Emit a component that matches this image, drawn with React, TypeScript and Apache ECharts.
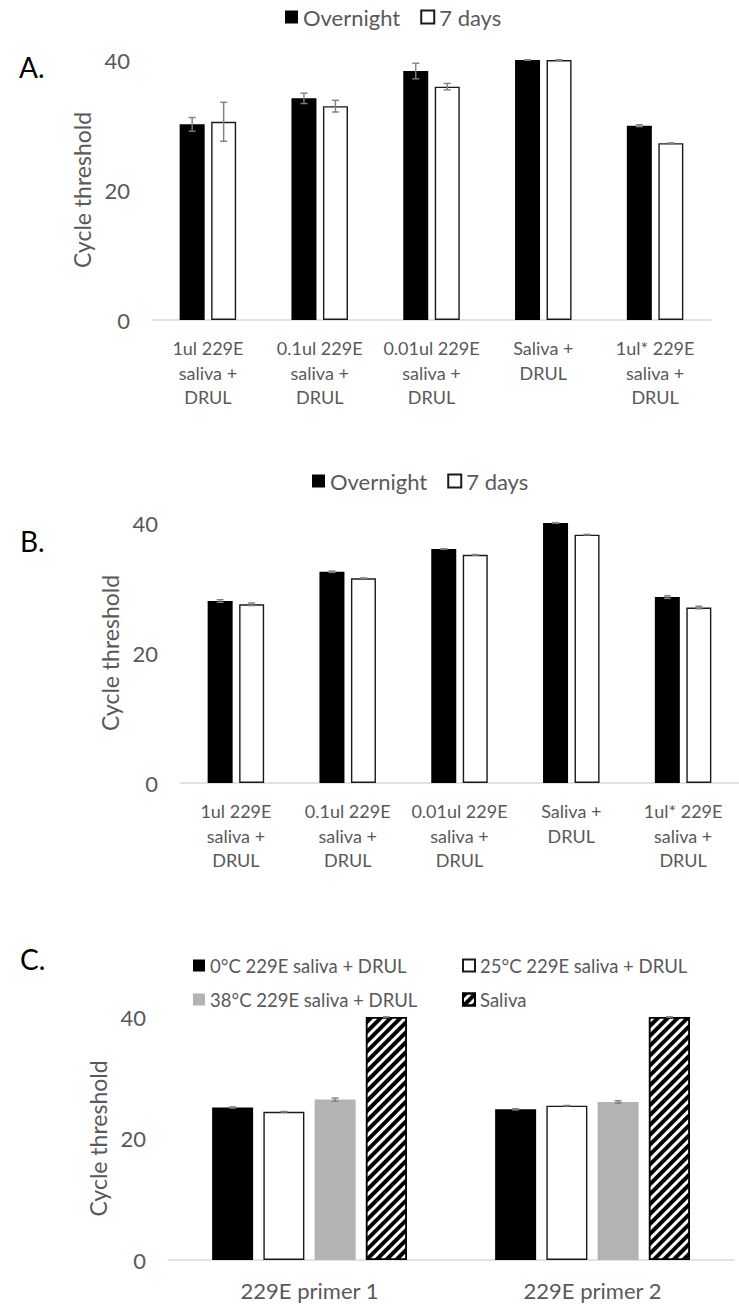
import React, { useEffect, useRef } from "react";
import * as echarts from "echarts";

// ---------- data ----------
const catsAB = [
  "1ul 229E\nsaliva +\nDRUL",
  "0.1ul 229E\nsaliva +\nDRUL",
  "0.01ul 229E\nsaliva +\nDRUL",
  "Saliva +\nDRUL",
  "1ul* 229E\nsaliva +\nDRUL",
];
const namesAB = ["Overnight", "7 days"];

const aOvernight = [30.1, 34.1, 38.3, 40.0, 29.9];
const aOvernightErr = [1.05, 0.8, 1.2, 0.05, 0.15];
const a7days = [30.5, 32.9, 35.9, 40.0, 27.2];
const a7daysErr = [3.0, 0.9, 0.5, 0.05, 0.05];

const bOvernight = [28.0, 32.5, 36.0, 40.0, 28.6];
const bOvernightErr = [0.2, 0.1, 0.05, 0.05, 0.2];
const b7days = [27.5, 31.5, 35.1, 38.2, 27.0];
const b7daysErr = [0.2, 0.05, 0.05, 0.05, 0.2];

const catsC = ["229E primer 1", "229E primer 2"];
const namesC = [
  "0°C 229E saliva + DRUL",
  "25°C 229E saliva + DRUL",
  "38°C 229E saliva + DRUL",
  "Saliva",
];
const c0 = [25.1, 24.8];
const c0Err = [0.1, 0.1];
const c25 = [24.4, 25.4];
const c25Err = [0.05, 0.05];
const c38 = [26.4, 26.0];
const c38Err = [0.25, 0.2];
const cSaliva = [40, 40];
const cSalivaErr = [0, 0];

const yMin = 0;
const yMax = 40;
const yInterval = 20;
const yName = "Cycle threshold";
const panelLetters = ["A.", "B.", "C."];

// ---------- styles ----------
const FONT = "Lato";
const TXT = "#595959";
const AXIS = "#d9d9d9";
const ERR = "#7f7f7f";

const errSeries = (
  gi: number,
  vals: number[],
  errs: number[],
  offset: number,
  key: string
) => ({
  type: "custom",
  name: "err-" + key,
  xAxisIndex: gi,
  yAxisIndex: gi,
  z: 10,
  silent: true,
  data: vals.map((v, i) => [i, v, errs[i]]),
  encode: { x: 0, y: 1 },
  renderItem: (params: any, api: any) => {
    const i = api.value(0);
    const v = api.value(1);
    const e = api.value(2);
    const top = api.coord([i, v + e]);
    const bot = api.coord([i, v - e]);
    const x = top[0] + offset;
    const cw = 3.5;
    const style = { stroke: ERR, lineWidth: 1.4 };
    return {
      type: "group",
      children: [
        { type: "line", shape: { x1: x, y1: top[1], x2: x, y2: bot[1] }, style },
        { type: "line", shape: { x1: x - cw, y1: top[1], x2: x + cw, y2: top[1] }, style },
        { type: "line", shape: { x1: x - cw, y1: bot[1], x2: x + cw, y2: bot[1] }, style },
      ],
    };
  },
});

const yAxisCfg = (gi: number, nameGap: number) => ({
  type: "value",
  gridIndex: gi,
  min: yMin,
  max: yMax,
  interval: yInterval,
  splitLine: { show: false },
  axisLine: { show: false },
  axisTick: { show: false },
  axisLabel: { color: TXT, fontSize: 22, fontFamily: FONT, margin: 22 },
  name: yName,
  nameLocation: "middle",
  nameGap,
  nameTextStyle: { color: TXT, fontSize: 23, fontFamily: FONT },
});

const xAxisCfg = (gi: number, cats: string[], fontSize: number, lineHeight: number, margin: number) => ({
  type: "category",
  gridIndex: gi,
  data: cats,
  axisLine: { show: true, lineStyle: { color: AXIS, width: 1.5 } },
  axisTick: { show: false },
  axisLabel: {
    color: TXT,
    fontSize,
    lineHeight,
    fontFamily: FONT,
    margin,
    interval: 0,
  },
});

const BW_AB = 25;
const GAP_AB = 0.26;
const OFF_AB = (BW_AB * (1 + GAP_AB)) / 2;
const BW_C = 41;
const GAP_C = 0.25;
const STEP_C = BW_C * (1 + GAP_C);

const blackStyle = { color: "#000000" };
const whiteStyle = { color: "#ffffff", borderColor: "#1a1a1a", borderWidth: 1.4 };
const greyStyle = { color: "#b3b3b3" };
const hatchStyle = {
  color: "#ffffff",
  borderColor: "#000000",
  borderWidth: 1.5,
  decal: {
    symbol: "rect",
    symbolSize: 1,
    color: "#000000",
    dashArrayX: [1, 0],
    dashArrayY: [3.2, 2.8],
    rotation: -Math.PI / 4,
  },
};

const barSeries = (name: string, gi: number, data: number[], style: any, bw: number, gap: number) => ({
  type: "bar",
  name,
  xAxisIndex: gi,
  yAxisIndex: gi,
  data,
  barWidth: bw,
  barGap: gap * 100 + "%",
  itemStyle: style,
  silent: true,
});

const legendText = (fontSize: number) => ({ color: TXT, fontSize, fontFamily: FONT });

export default function App() {
  const ref = useRef<HTMLDivElement>(null);
  useEffect(() => {
    document.body.style.margin = "0";
    if (!ref.current) return;
    const chart = echarts.init(ref.current, undefined, { renderer: "svg" });
    const option: any = {
      animation: false,
      backgroundColor: "#ffffff",
      grid: [
        { left: 152, top: 60, width: 559, height: 260 },
        { left: 180, top: 523, width: 559, height: 260 },
        { left: 168, top: 1017, width: 566, height: 244 },
      ],
      xAxis: [
        xAxisCfg(0, catsAB, 18, 24.5, 16),
        xAxisCfg(1, catsAB, 18, 24.5, 16),
        xAxisCfg(2, catsC, 22, 27, 17),
      ],
      yAxis: [yAxisCfg(0, 54), yAxisCfg(1, 55), yAxisCfg(2, 55)],
      legend: [
        {
          left: 285, top: 6, padding: 0, icon: "rect", itemWidth: 13, itemHeight: 13, itemGap: 20,
          selectedMode: false, data: namesAB, textStyle: legendText(22),
        },
        {
          left: 312, top: 470, padding: 0, icon: "rect", itemWidth: 13, itemHeight: 13, itemGap: 20,
          selectedMode: false, data: namesAB, textStyle: legendText(22),
        },
        { left: 193, top: 956, padding: 0, icon: "rect", itemWidth: 12, itemHeight: 12, selectedMode: false, data: [namesC[0]], textStyle: legendText(18.5) },
        { left: 462, top: 956, padding: 0, icon: "rect", itemWidth: 12, itemHeight: 12, selectedMode: false, data: [namesC[1]], textStyle: legendText(18.5) },
        { left: 193, top: 990, padding: 0, icon: "rect", itemWidth: 12, itemHeight: 12, selectedMode: false, data: [namesC[2]], textStyle: legendText(18.5) },
        { left: 462, top: 990, padding: 0, icon: "rect", itemWidth: 12, itemHeight: 12, selectedMode: false, data: [namesC[3]], textStyle: legendText(18.5) },
      ],
      graphic: [
        { type: "text", x: 19, y: 67, style: { text: panelLetters[0], fontSize: 28, fontFamily: FONT, fill: "#000", verticalAlign: "middle" } },
        { type: "text", x: 20, y: 541, style: { text: panelLetters[1], fontSize: 28, fontFamily: FONT, fill: "#000", verticalAlign: "middle" } },
        { type: "text", x: 20, y: 959, style: { text: panelLetters[2], fontSize: 28, fontFamily: FONT, fill: "#000", verticalAlign: "middle" } },
      ],
      series: [
        barSeries(namesAB[0], 0, aOvernight, blackStyle, BW_AB, GAP_AB),
        barSeries(namesAB[1], 0, a7days, whiteStyle, BW_AB, GAP_AB),
        errSeries(0, aOvernight, aOvernightErr, -OFF_AB, "a0"),
        errSeries(0, a7days, a7daysErr, OFF_AB, "a1"),

        barSeries(namesAB[0], 1, bOvernight, blackStyle, BW_AB, GAP_AB),
        barSeries(namesAB[1], 1, b7days, whiteStyle, BW_AB, GAP_AB),
        errSeries(1, bOvernight, bOvernightErr, -OFF_AB, "b0"),
        errSeries(1, b7days, b7daysErr, OFF_AB, "b1"),

        barSeries(namesC[0], 2, c0, blackStyle, BW_C, GAP_C),
        barSeries(namesC[1], 2, c25, whiteStyle, BW_C, GAP_C),
        barSeries(namesC[2], 2, c38, greyStyle, BW_C, GAP_C),
        barSeries(namesC[3], 2, cSaliva, hatchStyle, BW_C, GAP_C),
        errSeries(2, c0, c0Err, -1.5 * STEP_C, "c0"),
        errSeries(2, c25, c25Err, -0.5 * STEP_C, "c1"),
        errSeries(2, c38, c38Err, 0.5 * STEP_C, "c2"),
        errSeries(2, cSaliva, cSalivaErr, 1.5 * STEP_C, "c3"),
      ],
    };
    chart.setOption(option);
    return () => chart.dispose();
  }, []);
  return <div ref={ref} style={{ width: 739, height: 1304 }} />;
}
